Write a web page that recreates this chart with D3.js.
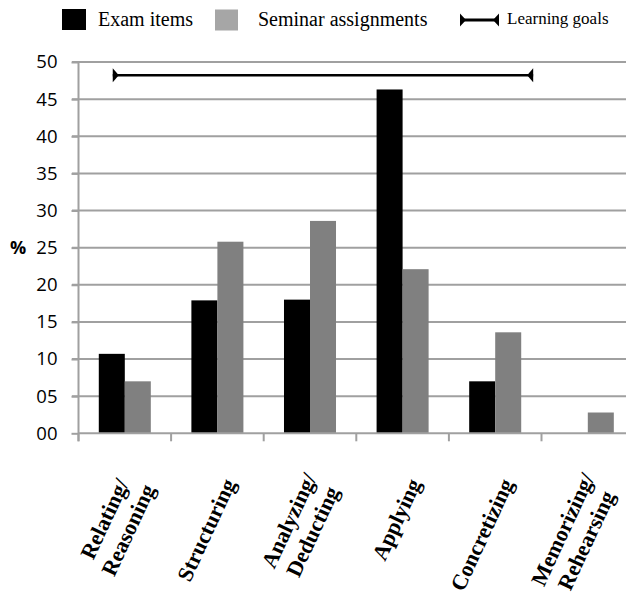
<!DOCTYPE html>
<html>
<head>
<meta charset="utf-8">
<script src="https://cdn.jsdelivr.net/npm/d3@7"></script>
<style>
  body { margin: 0; background: #fff; }
</style>
</head>
<body>
<div class="chart"></div>
<script>
// data
const categories = ["Relating/Reasoning", "Structuring", "Analyzing/Deducting", "Applying", "Concretizing", "Memorizing/Rehearsing"];
const series = ["Exam items", "Seminar assignments"];
const examItems = [10.7, 17.9, 18.0, 46.3, 7.0, 0];
const seminarAssignments = [7.0, 25.8, 28.6, 22.1, 13.6, 2.8];
const yTicks = [0, 5, 10, 15, 20, 25, 30, 35, 40, 45, 50];
const learningGoals = { value: 48.2, from: "Relating/Reasoning", to: "Concretizing" };

const serif = "'Liberation Serif', 'DejaVu Serif', serif";
const sans = "'Open Sans', 'Noto Sans', sans-serif";
const colors = { "Exam items": "#000", "Seminar assignments": "#808080" };

const width = 626, height = 599;
const svg = d3.select('.chart')
              .append('svg')
              .attr('width', width)
              .attr('height', height);

const step = 92.6;
const x = d3.scaleBand().domain(categories).range([78.5, 78.5 + step * 6]);
const x1 = d3.scaleBand().domain(series).range([0, x.bandwidth()]).paddingOuter(0.78);
const y = d3.scaleLinear().domain([0, 50]).range([433.3, 62]);

// gridlines
svg.append("g")
  .selectAll("line")
  .data(yTicks.filter(d => d > 0))
  .join("line")
    .attr("x1", 72).attr("x2", width)
    .attr("y1", d => y(d)).attr("y2", d => y(d))
    .attr("stroke", "#a0a0a0")
    .attr("stroke-width", 2);

// y axis
const yAxis = svg.append("g")
  .attr("transform", "translate(78.5,0)")
  .call(d3.axisLeft(y).tickValues(yTicks).tickFormat(d3.format("02d")).tickSize(7).tickPadding(14));
yAxis.select(".domain").attr("stroke", "#a0a0a0").attr("stroke-width", 2).attr("d", `M0,${y(50)}V${y(0) + 8}`);
yAxis.selectAll(".tick line").attr("stroke", "#a0a0a0").attr("stroke-width", 2);
yAxis.selectAll("text").attr("font-family", sans).attr("font-size", 18.5).attr("fill", "#000");

svg.append("text")
  .attr("x", 10).attr("y", y(25))
  .attr("dy", "0.35em")
  .attr("font-family", sans).attr("font-weight", "bold").attr("font-size", 18)
  .text("%");

// bars
const groups = svg.append("g")
  .selectAll("g")
  .data(categories)
  .join("g")
    .attr("transform", d => `translate(${x(d)},0)`);

groups.selectAll("rect")
  .data((d, i) => [
    { key: "Exam items", value: examItems[i] },
    { key: "Seminar assignments", value: seminarAssignments[i] }
  ])
  .join("rect")
    .attr("x", d => x1(d.key))
    .attr("width", x1.bandwidth())
    .attr("y", d => y(d.value))
    .attr("height", d => y(0) - y(d.value))
    .attr("fill", d => colors[d.key]);

// x axis
svg.append("line")
  .attr("x1", 78.5).attr("x2", width)
  .attr("y1", y(0)).attr("y2", y(0))
  .attr("stroke", "#a0a0a0").attr("stroke-width", 2);
svg.append("g")
  .selectAll("line")
  .data(categories)
  .join("line")
    .attr("x1", d => x(d)).attr("x2", d => x(d))
    .attr("y1", y(0)).attr("y2", y(0) + 8)
    .attr("stroke", "#a0a0a0").attr("stroke-width", 2);

// rotated category labels
const labelSize = 22, lineH = 26;
categories.forEach(c => {
  const lines = c.split(/(?<=\/)/);
  const g = svg.append("g")
    .attr("transform", `translate(${x(c) + x.bandwidth() / 2 + 12},480) rotate(-65)`);
  const t = g.append("text")
    .attr("font-family", serif)
    .attr("font-weight", "bold")
    .attr("font-size", labelSize)
    .attr("text-anchor", "middle");
  const spans = lines.map((l, j) => t.append("tspan")
    .attr("y", (j - (lines.length - 1) / 2) * lineH + labelSize * 0.35)
    .text(l));
  const maxLen = d3.max(spans, s => s.node().getComputedTextLength());
  spans.forEach(s => s.attr("x", -maxLen / 2));
});

// learning goals bar with inward pointing heads
function goalLine(g, x0, x2, yy, h, w, sw) {
  g.append("line")
    .attr("x1", x0).attr("x2", x2).attr("y1", yy).attr("y2", yy)
    .attr("stroke", "#000").attr("stroke-width", sw);
  g.append("path")
    .attr("d", `M${x0},${yy - h / 2}L${x0 + w},${yy}L${x0},${yy + h / 2}Z`)
    .attr("fill", "#000");
  g.append("path")
    .attr("d", `M${x2},${yy - h / 2}L${x2 - w},${yy}L${x2},${yy + h / 2}Z`)
    .attr("fill", "#000");
}
goalLine(svg.append("g"),
  x(learningGoals.from) + x.bandwidth() * 0.37,
  x(learningGoals.to) + x.bandwidth() * 0.91,
  y(learningGoals.value), 14, 6, 2.5);

// legend
const legend = svg.append("g");
legend.append("rect").attr("x", 62).attr("y", 9).attr("width", 24).attr("height", 21).attr("fill", "#000");
legend.append("text").attr("x", 98).attr("y", 26)
  .attr("font-family", serif).attr("font-size", 20).text(series[0]);
legend.append("rect").attr("x", 215).attr("y", 9.5).attr("width", 23).attr("height", 21).attr("fill", "#a6a6a6");
legend.append("text").attr("x", 258).attr("y", 26)
  .attr("font-family", serif).attr("font-size", 20).text(series[1]);
goalLine(legend, 460, 499, 20, 13, 6, 3);
legend.append("text").attr("x", 507).attr("y", 24)
  .attr("font-family", serif).attr("font-size", 17).text("Learning goals");
</script>
</body>
</html>
